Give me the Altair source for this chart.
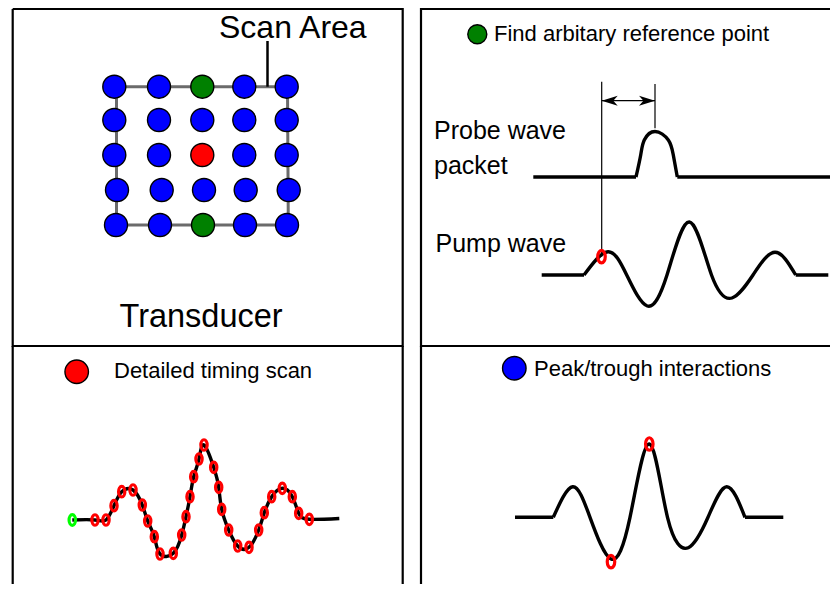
import altair as alt
import pandas as pd

# ---------------- data (diagram coordinate space, y grows downward) ----------------
# scan grid, top-left panel
grid_row_y = [86.7, 120.0, 155.0, 190.0, 225.0]
grid_col_x = [
    [114.3, 159.0, 202.3, 244.3, 286.7],
    [114.3, 159.0, 202.3, 244.3, 286.7],
    [114.3, 159.0, 202.3, 244.3, 286.7],
    [117.0, 161.7, 204.0, 245.7, 288.7],
    [116.0, 160.0, 203.0, 245.0, 287.0],
]
grid_kind = [
    ["scan", "scan", "reference", "scan", "scan"],
    ["scan", "scan", "scan", "scan", "scan"],
    ["scan", "scan", "timing", "scan", "scan"],
    ["scan", "scan", "scan", "scan", "scan"],
    ["scan", "scan", "reference", "scan", "scan"],
]
kind_names = ["scan", "reference", "timing"]
kind_colors = ["#0000ff", "#008000", "#ff0000"]

# legend dots of the panels
legend_kind = ["reference", "timing", "scan"]
legend_x = [477.3, 76.7, 514.3]
legend_y = [34.3, 371.7, 368.3]

# scan-area outline and its label leader
scan_rect_x = [116.5, 287.5, 288.3, 116.5, 116.5]
scan_rect_y = [86.7, 86.7, 225.0, 225.0, 86.7]
leader_x = [267.5, 267.5]
leader_y = [41.0, 86.7]

# probe wave packet (bump) and flat parts
probe_x = [636.0, 640.7, 644.3, 655.0, 668.3, 673.3, 677.3]
probe_y = [177.0, 155.0, 140.0, 131.5, 140.0, 155.0, 177.0]
# pump wave
pump_x = [584.0, 608.0, 626.7, 647.3, 667.0, 689.3, 711.5, 732.0, 753.0, 775.0, 795.7]
pump_y = [275.0, 251.7, 275.0, 306.0, 275.0, 222.0, 275.0, 298.0, 275.0, 252.3, 275.0]
# detailed timing scan wave (first point = green start, then red samples, then flat end)
timing_x = [72.3, 95.0, 106.0, 114.0, 121.7, 133.0, 142.3, 147.7, 154.3, 160.0, 173.3,
            181.7, 186.0, 190.0, 193.7, 199.0, 204.0, 213.7, 218.7, 221.7, 228.7,
            237.7, 249.0, 258.7, 264.3, 271.7, 282.3, 292.3, 298.7, 309.3, 339.3]
timing_y = [520.0, 520.0, 520.0, 505.7, 491.7, 490.0, 505.0, 521.0, 536.7, 554.0, 553.3,
            535.0, 516.7, 496.7, 476.7, 459.0, 445.0, 467.3, 487.3, 509.3, 530.0,
            546.0, 547.3, 530.0, 512.7, 496.7, 488.3, 496.7, 513.3, 519.3, 518.5]
# peak/trough interaction wave
peak_x = [553.3, 572.7, 590.0, 611.0, 630.0, 649.3, 667.5, 688.3, 708.0, 726.7, 745.0]
peak_y = [517.3, 486.7, 517.3, 559.0, 517.3, 444.0, 517.3, 547.7, 517.3, 486.7, 517.3]
# flat baselines: (x start, x end, y)
flat_x0 = [533.3, 677.3, 541.7, 795.7, 515.0, 745.0]
flat_x1 = [636.0, 840.0, 584.0, 828.3, 553.3, 783.3]
flat_y = [177.0, 177.0, 275.0, 275.0, 517.3, 517.3]

# red marker rings on the pump wave and peak/trough wave
ring_x = [601.5, 649.3, 611.0]
ring_y = [256.7, 444.0, 561.7]

# timing marker and offset arrow
guide_x0 = [601.7, 655.0, 601.7]
guide_x1 = [601.7, 655.0, 655.0]
guide_y0 = [81.7, 84.0, 100.7]
guide_y1 = [256.7, 128.3, 100.7]
arrow_tip_x = [601.7, 655.0]
arrow_tip_y = [100.7, 100.7]
arrow_dir = [180, 0]

# panel frames
frame_paths = [
    ([12.7, 402.7, 402.7, 12.7, 12.7], [9.0, 9.0, 346.0, 346.0, 9.0]),
    ([840.0, 421.0, 421.0, 840.0], [9.0, 9.0, 346.0, 346.0]),
    ([12.7, 12.7], [346.0, 600.0]),
    ([402.7, 402.7], [346.0, 600.0]),
    ([421.0, 421.0], [346.0, 600.0]),
]

# labels
label_text = ["Scan Area", "Transducer", "Find arbitary reference point", "Probe wave",
              "packet", "Pump wave", "Detailed timing scan", "Peak/trough interactions"]
label_x = [219.0, 119.5, 494.0, 434.0, 434.0, 435.5, 114.0, 534.0]
label_y = [37.5, 326.7, 40.7, 139.3, 173.5, 251.7, 377.7, 375.7]
label_size = [32, 32.5, 22, 25, 25, 25, 22, 22]

# ---------------- tables ----------------
def path_df(paths):
    rows = []
    for s, (xs, ys) in enumerate(paths):
        for i, (x, y) in enumerate(zip(xs, ys)):
            rows.append({"s": s, "i": i, "x": x, "y": y})
    return pd.DataFrame(rows)

grid_df = pd.DataFrame([
    {"x": grid_col_x[r][c], "y": grid_row_y[r], "k": grid_kind[r][c]}
    for r in range(5) for c in range(5)
])
legend_df = pd.DataFrame({"x": legend_x, "y": legend_y, "k": legend_kind})
frames_df = path_df(frame_paths)
rect_df = path_df([(scan_rect_x, scan_rect_y)])
leader_df = path_df([(leader_x, leader_y)])
guide_df = path_df([([a, b], [c, d]) for a, b, c, d in zip(guide_x0, guide_x1, guide_y0, guide_y1)])
wave_df = path_df(
    [(probe_x, probe_y), (pump_x, pump_y), (timing_x, timing_y), (peak_x, peak_y)]
    + [([a, b], [y, y]) for a, b, y in zip(flat_x0, flat_x1, flat_y)]
)
timing_rings_df = pd.DataFrame({"x": timing_x[1:-1], "y": timing_y[1:-1]})
start_ring_df = pd.DataFrame({"x": timing_x[:1], "y": timing_y[:1]})
rings_df = pd.DataFrame({"x": ring_x, "y": ring_y})
arrow_df = pd.DataFrame({"x": arrow_tip_x, "y": arrow_tip_y, "a": arrow_dir})
label_df = pd.DataFrame({"t": label_text, "x": label_x, "y": label_y, "fs": label_size})

# ---------------- encodings ----------------
X = alt.X("x:Q", scale=alt.Scale(domain=[8, 830], nice=False, zero=False), axis=None)
Y = alt.Y("y:Q", scale=alt.Scale(domain=[8, 584], nice=False, zero=False, reverse=True), axis=None)
KIND = alt.Color("k:N", scale=alt.Scale(domain=kind_names, range=kind_colors), legend=None)

ELLIPSE = ("M0,-1 C0.3314,-1 0.6,-0.5523 0.6,0 C0.6,0.5523 0.3314,1 0,1 "
           "C-0.3314,1 -0.6,0.5523 -0.6,0 C-0.6,-0.5523 -0.3314,-1 0,-1 Z")
ARROW = "M0,0 L-2,-0.62 L-1.45,0 L-2,0.62 Z"


def lines(df, color, width, interp="linear"):
    return alt.Chart(df).mark_line(
        color=color, strokeWidth=width, interpolate=interp, strokeJoin="miter"
    ).encode(x=X, y=Y, detail="s:N", order="i:Q")


frames = lines(frames_df, "#000000", 2.2)
rect = lines(rect_df, "#6b6b6b", 3)
leader = lines(leader_df, "#000000", 2.5)
guides = lines(guide_df, "#000000", 1.2)
waves = lines(wave_df, "#000000", 3.4, "natural")

grid = alt.Chart(grid_df).mark_point(
    shape="circle", filled=True, size=529, stroke="#000000", strokeWidth=1.4, opacity=1
).encode(x=X, y=Y, fill=KIND)

legend_small = alt.Chart(legend_df[legend_df.k == "reference"]).mark_point(
    shape="circle", filled=True, size=361, stroke="#000000", strokeWidth=1.4, opacity=1
).encode(x=X, y=Y, fill=KIND)
legend_big = alt.Chart(legend_df[legend_df.k != "reference"]).mark_point(
    shape="circle", filled=True, size=552, stroke="#000000", strokeWidth=1.4, opacity=1
).encode(x=X, y=Y, fill=KIND)

timing_rings = alt.Chart(timing_rings_df).mark_point(
    shape=ELLIPSE, filled=False, size=110, color="#ff0000", strokeWidth=3.2, opacity=1
).encode(x=X, y=Y)
start_ring = alt.Chart(start_ring_df).mark_point(
    shape=ELLIPSE, filled=False, size=115, color="#00ff00", strokeWidth=3.2, opacity=1
).encode(x=X, y=Y)
rings = alt.Chart(rings_df).mark_point(
    shape=ELLIPSE, filled=False, size=156, color="#ff0000", strokeWidth=3.2, opacity=1
).encode(x=X, y=Y)

arrows = alt.Chart(arrow_df).mark_point(
    shape=ARROW, filled=True, size=256, color="#000000", opacity=1
).encode(x=X, y=Y, angle=alt.Angle("a:Q", scale=None))

labels = alt.Chart(label_df).mark_text(
    align="left", baseline="alphabetic", font="Liberation Sans", color="#000000"
).encode(x=X, y=Y, text="t:N", size=alt.Size("fs:Q", scale=None))

chart = alt.layer(
    frames, rect, leader, guides, waves, grid, legend_small, legend_big,
    timing_rings, start_ring, rings, arrows, labels
).properties(
    width=822, height=576, padding=0, autosize=alt.AutoSizeParams(type="none"),
    background="#ffffff"
).configure_view(stroke=None)

chart.save("out.html", embed_options={"renderer": "svg", "actions": False})
